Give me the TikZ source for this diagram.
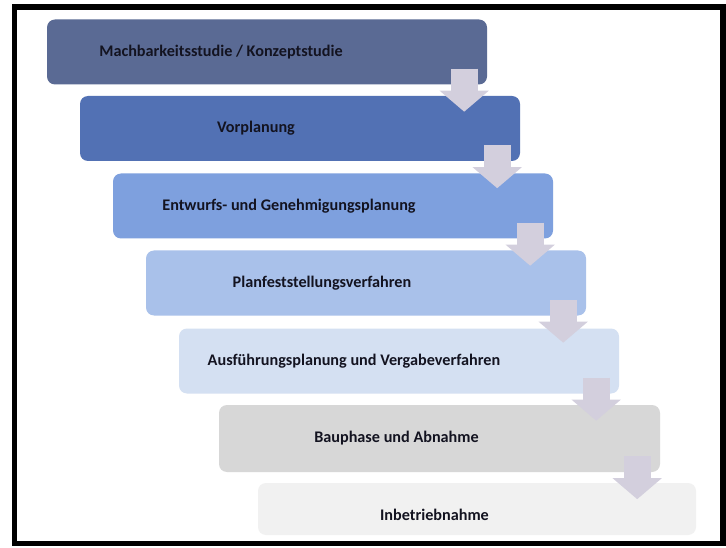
\documentclass[tikz,border=0pt]{standalone}
\usepackage{fontspec}
\setmainfont{Carlito}
\usetikzlibrary{calc,arrows.meta}
\definecolor{c1}{HTML}{5A6A94}
\definecolor{c2}{HTML}{5271B4}
\definecolor{c3}{HTML}{7EA0DE}
\definecolor{c4}{HTML}{A9C1EA}
\definecolor{c5}{HTML}{D4E0F2}
\definecolor{c6}{HTML}{D7D7D7}
\definecolor{c7}{HTML}{F1F1F1}
\definecolor{arr}{HTML}{D3CFDD}
\definecolor{txt}{HTML}{131320}
\tikzset{
  stepbox/.style={rectangle, rounded corners=8pt, draw=none, minimum width=440pt, minimum height=65pt, inner sep=0pt},
  steptext/.style={font=\fontsize{16.2}{19}\selectfont\bfseries, text=txt, inner sep=0pt},
  downarrow/.style={draw=arr, line width=27pt, -{Triangle[width=48pt,length=21pt]}, shorten <=0pt}
}
\begin{document}
\begin{tikzpicture}[x=1pt,y=-1pt]
\useasboundingbox (0,0) rectangle (726,548);
\fill[white] (0,0) rectangle (726,548);
\node[stepbox, fill=c1] (b1) at (267,52) {};
\node[stepbox, fill=c2] (b2) at (300,128.5) {};
\node[stepbox, fill=c3] (b3) at (333,206) {};
\node[stepbox, fill=c4] (b4) at (366,283) {};
\node[stepbox, fill=c5] (b5) at (399,361) {};
\node[stepbox, fill=c6, minimum width=441pt, minimum height=67pt] (b6) at (439.5,438.5) {};
\node[stepbox, fill=c7, minimum width=438pt, minimum height=52pt] (b7) at (477,509) {};
\foreach \a/\b in {1/2,2/3,3/4,4/5,5/6,6/7}{
  \coordinate (s\a) at ($(b\a.south east)+(-23,-16)$);
  \coordinate (e\a) at ($(b\a.south east)+(-23,27)$);
  \draw[downarrow] (s\a) -- (e\a);
}
\node[steptext] (t1) at ($(b1.center)+(-46,0)$) {Machbarkeitsstudie / Konzeptstudie};
\node[steptext] (t2) at ($(b2.center)+(-44,0)$) {Vorplanung};
\node[steptext] (t3) at ($(b3.center)+(-44,0)$) {Entwurfs- und Genehmigungsplanung};
\node[steptext] (t4) at ($(b4.center)+(-44,0)$) {Planfeststellungsverfahren};
\node[steptext] (t5) at ($(b5.center)+(-45,0)$) {Ausführungsplanung und Vergabeverfahren};
\node[steptext] (t6) at ($(b6.center)+(-43,0)$) {Bauphase und Abnahme};
\node[steptext] (t7) at ($(b7.center)+(-42.5,6)$) {Inbetriebnahme};
\draw[black, line width=5.5pt] (14.5,7) rectangle (723,543.5);
\end{tikzpicture}
\end{document}
